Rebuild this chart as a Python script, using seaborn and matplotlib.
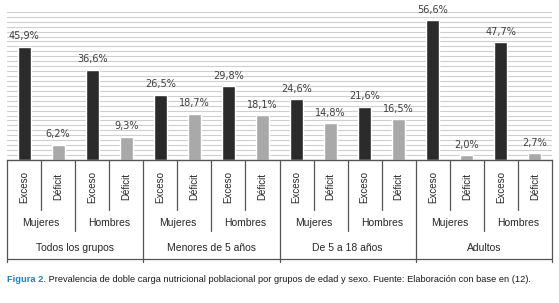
import matplotlib
matplotlib.use("Agg")
import matplotlib.pyplot as plt
import matplotlib.transforms as mtransforms
import pandas as pd
import seaborn as sns

# ## Data
grupos = ["Todos los grupos", "Menores de 5 años", "De 5 a 18 años", "Adultos"]
sexos = ["Mujeres", "Hombres"]
tipos = ["Exceso", "Déficit"]
valores = [
    45.9, 6.2, 36.6, 9.3,
    26.5, 18.7, 29.8, 18.1,
    24.6, 14.8, 21.6, 16.5,
    56.6, 2.0, 47.7, 2.7,
]
caption_head = "Figura 2."
caption_body = (" Prevalencia de doble carga nutricional poblacional por grupos "
                "de edad y sexo. Fuente: Elaboración con base en (12).")

rows = []
k = 0
for g in grupos:
    for s in sexos:
        for t in tipos:
            rows.append({"bar": f"{g}|{s}|{t}", "grupo": g, "sexo": s,
                         "tipo": t, "valor": valores[k]})
            k += 1
df = pd.DataFrame(rows)

sns.set_style("white")
narrow = ["Liberation Sans", "DejaVu Sans"]

W, H = 559, 303
fig = plt.figure(figsize=(W / 100, H / 100), dpi=100)


def fy(ypix):
    return (H - ypix) / H


x0, x1 = 7, 552
y_base, y_top = 160, 11.8
ax = fig.add_axes([x0 / W, fy(y_base), (x1 - x0) / W, (y_base - y_top) / H])

sns.barplot(
    data=df, x="bar", y="valor", hue="tipo", order=df["bar"],
    palette={"Exceso": "#2b2b2b", "Déficit": "#a9a9a9"},
    dodge=False, width=0.38, ax=ax, legend=False, saturation=1,
)
ax.set_xlim(-0.5, len(df) - 0.5)
ax.set_ylim(0, 60)
ax.set_yticks(range(0, 61, 2))
ax.yaxis.grid(True, color="#cfcfcf", linewidth=0.8)
ax.set_axisbelow(True)
ax.set_xticks([])
ax.set_yticklabels([])
ax.tick_params(left=False, bottom=False)
ax.set_xlabel("")
ax.set_ylabel("")
for side in ["left", "right", "top"]:
    ax.spines[side].set_visible(False)
ax.spines["bottom"].set_color("#555555")
ax.spines["bottom"].set_linewidth(1.0)

# value labels
for i, v in enumerate(df["valor"]):
    ax.annotate(f"{v:.1f}%".replace(".", ","), (i, v), xytext=(0, 4),
                textcoords="offset points", ha="center", va="bottom",
                fontsize=7, color="#404040")

# hierarchical x-axis table
tr = mtransforms.blended_transform_factory(ax.transData, fig.transFigure)
line_kw = dict(color="#555555", linewidth=0.9, clip_on=False, transform=tr)
n = len(df)
for b in range(n + 1):
    xb = b - 0.5
    if b % 4 == 0:
        y_end = 262
    elif b % 2 == 0:
        y_end = 231
    else:
        y_end = 210
    ax.plot([xb, xb], [fy(y_base), fy(y_end)], **line_kw)
ax.plot([-0.5, n - 0.5], [fy(259), fy(259)], **line_kw)

for i, t in enumerate(df["tipo"]):
    ax.text(i, fy(187), t, rotation=90, ha="center", va="center",
            fontsize=7, family=narrow, transform=tr)
for j in range(len(grupos) * len(sexos)):
    ax.text(2 * j + 0.5, fy(223), sexos[j % 2], ha="center", va="center",
            fontsize=7.5, family=narrow, transform=tr)
for j, g in enumerate(grupos):
    ax.text(4 * j + 1.5, fy(248), g, ha="center", va="center",
            fontsize=7.5, family=narrow, transform=tr)

# caption: shrink font until it spans the same width as the reference
cap_size = 8.0
while True:
    cap = fig.text(7 / W, fy(280), caption_head, fontsize=cap_size,
                   family=narrow, fontweight="bold", color="#1e7fc2",
                   va="center")
    fig.canvas.draw()
    bb = cap.get_window_extent()
    body = fig.text(bb.x1 / W, fy(280), caption_body, fontsize=cap_size,
                    family=narrow, color="#1a1a1a", va="center")
    fig.canvas.draw()
    if body.get_window_extent().x1 <= 535 or cap_size < 5:
        break
    cap.remove()
    body.remove()
    cap_size -= 0.1

fig.savefig("out.png", dpi=100)
